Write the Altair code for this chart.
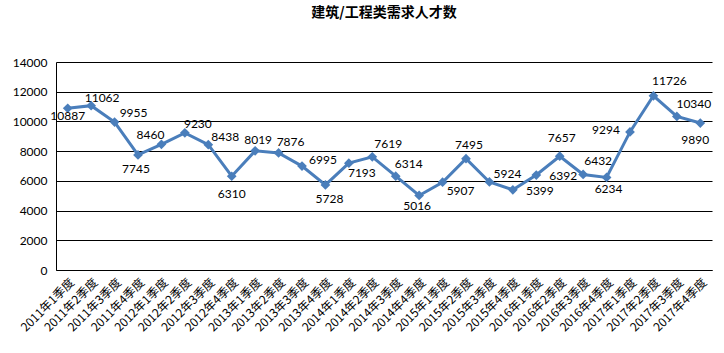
import altair as alt
import pandas as pd

quarters = [
    "2011年1季度", "2011年2季度", "2011年3季度", "2011年4季度",
    "2012年1季度", "2012年2季度", "2012年3季度", "2012年4季度",
    "2013年1季度", "2013年2季度", "2013年3季度", "2013年4季度",
    "2014年1季度", "2014年2季度", "2014年3季度", "2014年4季度",
    "2015年1季度", "2015年2季度", "2015年3季度", "2015年4季度",
    "2016年1季度", "2016年2季度", "2016年3季度", "2016年4季度",
    "2017年1季度", "2017年2季度", "2017年3季度", "2017年4季度",
]
values = [
    10887, 11062, 9955, 7745,
    8460, 9230, 8438, 6310,
    8019, 7876, 6995, 5728,
    7193, 7619, 6314, 5016,
    5907, 7495, 5924, 5399,
    6392, 7657, 6432, 6234,
    9294, 11726, 10340, 9890,
]
y_ticks = [0, 2000, 4000, 6000, 8000, 10000, 12000, 14000]

# label placement (style): pixel offsets of each data label from its point
label_dx = [0, 11, 19, -2, -11, 13, 17, 0, 3, 12, 21, 4, 13, 16, 13, -2,
            18, 3, 18, 27, 27, 2, 15, 2, -24, 16, 17, -5]
label_dy = [8, -8, -9, 14, -9, -9, -8, 18, -11, -11, -6, 14, 10, -13, -12, 11,
            9, -14, -8, 1, 1, -18, -13, 12, -2, -15, -12, 17]

PLOT_W, PLOT_H = 656, 208
Y_MAX = 14000

df = pd.DataFrame({
    "quarter": quarters,
    "value": values,
    "dx": label_dx,
    "dy": label_dy,
})

x_enc = alt.X(
    "quarter:N", sort=quarters, title=None,
    scale=alt.Scale(type="point", padding=0.5),
    axis=alt.Axis(
        labelAngle=-45, labelAlign="right", labelBaseline="middle",
        labelFont="Noto Sans CJK SC", labelFontSize=12, labelColor="#000000",
        labelPadding=10, labelOffset=4, ticks=False,
        domain=True, domainColor="#000000", labelOverlap=False, grid=False,
    ),
)
y_scale = alt.Scale(domain=[0, Y_MAX], nice=False)
y_axis = alt.Axis(
    values=y_ticks, ticks=False, domain=True, domainColor="#000000",
    grid=True, gridColor="#000000", gridWidth=1, gridOpacity=1,
    labelFont="Lato", labelFontSize=12, labelColor="#000000",
    labelPadding=9, format="d",
)
y_enc = alt.Y("value:Q", title=None, scale=y_scale, axis=y_axis)

base = alt.Chart(df)
line = base.mark_line(color="#4A7EBB", strokeWidth=3).encode(x=x_enc, y=y_enc)
points = base.mark_point(shape="diamond", filled=True, size=95,
                         color="#4A7EBB", opacity=1).encode(x=x_enc, y=y_enc)
labels = base.transform_calculate(
    label_y=f"datum.value - datum.dy * {Y_MAX} / {PLOT_H}"
).mark_text(font="Lato", fontSize=12, color="#000000",
            align="center", baseline="middle").encode(
    x=x_enc,
    y=alt.Y("label_y:Q", title=None, scale=y_scale, axis=y_axis),
    xOffset=alt.XOffset("dx:Q", scale=None),
    text=alt.Text("value:Q", format="d"),
)

chart = alt.layer(line, points, labels).properties(
    width=PLOT_W, height=PLOT_H,
    padding={"left": 56, "top": 62, "right": 12, "bottom": 83},
    autosize=alt.AutoSizeParams(type="none"),
    background="white",
    title=alt.TitleParams(
        "建筑/工程类需求人才数", font="Noto Sans CJK SC", fontSize=14,
        fontWeight="bold", color="#000000", anchor="middle", offset=36,
    ),
).configure_view(stroke=None)

chart.save("out.html", embed_options={"renderer": "svg", "actions": False})
